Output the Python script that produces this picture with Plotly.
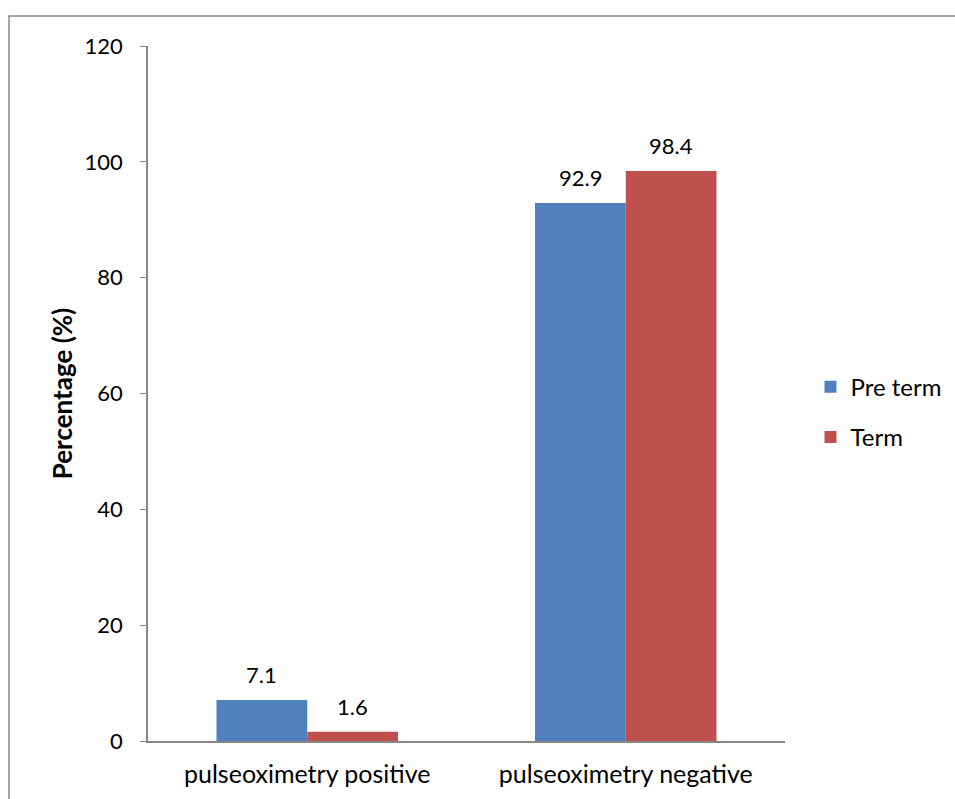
import plotly.graph_objects as go

categories = ["pulseoximetry positive", "pulseoximetry negative"]
pre_term = [7.1, 92.9]
term = [1.6, 98.4]
series_names = ["Pre term", "Term"]
colors = ["#4F81BD", "#C0504D"]

FONT = "Lato, Open Sans, sans-serif"
BAR_PX = 637 / 2 * (1 - 0.43) / 2

fig = go.Figure()
for j, (name, vals, col) in enumerate(zip(series_names, [pre_term, term], colors)):
    fig.add_trace(go.Bar(
        x=categories, y=vals, name=name, marker_color=col,
        marker_line_width=0, legendgroup=name,
    ))
    for c, v in zip(categories, vals):
        fig.add_annotation(x=c, y=v, text=f"{v:.1f}", showarrow=False,
                           xref="x", yref="y", yanchor="bottom",
                           xshift=(j - 0.5) * BAR_PX, yshift=10,
                           font=dict(size=22, color="#000000", family=FONT))

fig.update_layout(
    width=955, height=799,
    barmode="group", bargap=0.43, bargroupgap=0,
    plot_bgcolor="white", paper_bgcolor="white",
    margin=dict(l=148, r=170, t=46, b=58, autoexpand=False),
    font=dict(family=FONT, size=22, color="#000000"),
    legend=dict(x=1.04, y=0.473, xanchor="left", yanchor="middle",
                font=dict(size=24), traceorder="grouped", tracegroupgap=16),
    showlegend=True,
)
fig.update_yaxes(
    range=[0, 120], dtick=20, showgrid=False, zeroline=False,
    showline=True, linecolor="#868686", linewidth=1.5,
    ticks="outside", ticklen=6, tickcolor="#868686",
    tickfont=dict(size=22), ticklabelstandoff=13,
    title=dict(text="<b>Percentage (%)</b>", font=dict(size=26), standoff=4),
)
fig.update_xaxes(
    showgrid=False, showline=True, linecolor="#868686", linewidth=1.5,
    ticks="", tickfont=dict(size=25), ticklabelstandoff=10,
)
fig.add_shape(type="rect", xref="paper", yref="paper",
              x0=(9 - 148) / 637, x1=(1000 - 148) / 637,
              y0=(741 - 850) / 695, y1=(741 - 16) / 695,
              line=dict(color="#888888", width=1.5), layer="below")
fig.write_html("out.html", config={"displayModeBar": False},
               post_script="document.body.style.margin='0';document.body.style.overflow='hidden';")
